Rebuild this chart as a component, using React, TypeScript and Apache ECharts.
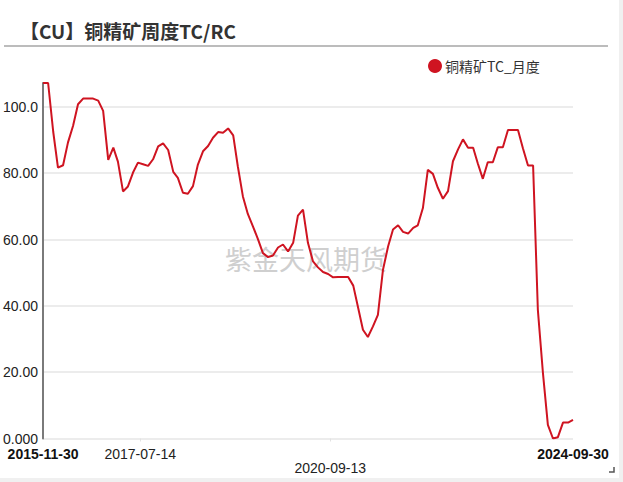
import React, { useEffect, useRef } from "react";
import * as echarts from "echarts";

const TITLE = "【CU】铜精矿周度TC/RC";
const SERIES_NAME = "铜精矿TC_月度";
const WATERMARK = "紫金天风期货";

// monthly observations, Nov 2015 .. Sep 2024 (month-end dates)
const START_YEAR = 2015;
const START_MONTH = 10; // November (0-based)
const tcValues = [
  107.2, 107.2, 92.5, 81.7, 82.4, 89.3, 94.3, 100.8, 102.5, 102.5,
  102.5, 101.9, 98.8, 84.0, 87.7, 83.5, 74.5, 76.0, 80.2, 83.2,
  82.7, 82.2, 84.2, 88.1, 89.0, 87.0, 80.4, 78.6, 74.1, 73.8,
  76.1, 82.6, 86.6, 88.2, 90.7, 92.4, 92.2, 93.5, 91.4, 82.1,
  73.0, 67.7, 64.0, 60.2, 55.9, 54.7, 55.2, 57.6, 58.5, 56.4,
  59.0, 67.2, 69.0, 59.0, 53.4, 51.6, 50.2, 49.6, 48.6, 48.7,
  48.7, 48.7, 46.1, 39.8, 32.8, 30.6, 33.8, 37.3, 50.9, 57.9,
  63.0, 64.3, 62.3, 61.8, 63.5, 64.3, 69.5, 81.0, 79.8, 75.6,
  72.3, 74.6, 83.6, 87.2, 90.2, 87.7, 87.7, 83.0, 78.3, 83.3,
  83.3, 87.8, 87.8, 93.0, 93.0, 93.0, 87.5, 82.3, 82.3, 38.8,
  19.7, 4.1, 0.0, 0.4, 4.8, 4.8, 5.6,
];

const xTickDates = ["2017-07-14", "2020-09-13"];
const xEdgeDates = ["2015-11-30", "2024-09-30"];
const xLowerLabel = "2020-09-13";

function monthEnd(i: number): number {
  const total = START_MONTH + i;
  const y = START_YEAR + Math.floor(total / 12);
  const m = total % 12;
  return Date.UTC(y, m + 1, 0);
}

function parseDate(s: string): number {
  const [y, m, d] = s.split("-").map(Number);
  return Date.UTC(y, m - 1, d);
}

function fmtDate(t: number): string {
  const d = new Date(t);
  const p = (n: number) => (n < 10 ? "0" + n : "" + n);
  return d.getUTCFullYear() + "-" + p(d.getUTCMonth() + 1) + "-" + p(d.getUTCDate());
}

const RED = "#cf1421";
const FONT = "'Liberation Sans', Arial, sans-serif";
const CJK = "'Noto Sans CJK SC', 'Noto Sans', sans-serif";

export default function App() {
  const ref = useRef<HTMLDivElement>(null);
  useEffect(() => {
    document.body.style.margin = "0";
    if (!ref.current) return;
    const chart = echarts.init(ref.current, null, { renderer: "svg" });
    const seriesData = tcValues.map((v, i) => [monthEnd(i), v]);
    const tickVals = xTickDates.map(parseDate);
    const edgeVals = xEdgeDates.map(parseDate);
    const labelVals = [edgeVals[0], ...tickVals, edgeVals[1]];
    const lowerVal = parseDate(xLowerLabel);

    chart.setOption({
      animation: false,
      backgroundColor: "#ffffff",
      title: {
        text: TITLE,
        left: 15,
        top: 16,
        textStyle: { fontSize: 19, fontWeight: "bold", color: "#333333", fontFamily: CJK },
      },
      legend: {
        data: [SERIES_NAME],
        icon: "circle",
        left: 428,
        top: 59,
        itemWidth: 14,
        itemHeight: 14,
        padding: 0,
        textStyle: { fontSize: 14, color: "#333333", fontFamily: CJK, padding: [0, 0, 0, -2] },
      },
      grid: { left: 39, right: 50, top: 83, bottom: 43.5, containLabel: false },
      xAxis: {
        type: "value",
        min: edgeVals[0],
        max: edgeVals[1],
        axisLine: { show: false },
        axisTick: {
          show: true,
          customValues: tickVals,
          length: 3,
          lineStyle: { color: "#e2e2e2", width: 1 },
        },
        splitLine: {
          show: true,
          showMinLine: false,
          showMaxLine: false,
          lineStyle: { color: "#e2e2e2", width: 1 },
        },
        axisLabel: {
          customValues: labelVals,
          margin: 8,
          fontSize: 14,
          lineHeight: 14,
          color: "#222222",
          fontFamily: FONT,
          showMinLabel: true,
          showMaxLabel: true,
          formatter: (value: number) => {
            const s = fmtDate(value);
            if (value === edgeVals[0] || value === edgeVals[1]) return "{b|" + s + "}";
            if (value === lowerVal) return "\n{n|" + s + "}";
            return "{n|" + s + "}";
          },
          rich: {
            b: { fontSize: 14, fontWeight: "bold", color: "#111111", fontFamily: FONT, lineHeight: 14 },
            n: { fontSize: 14, color: "#222222", fontFamily: FONT, lineHeight: 14 },
          },
        },
      },
      yAxis: {
        type: "value",
        min: 0,
        max: "dataMax",
        interval: 20,
        axisLine: { show: true, lineStyle: { color: "#7a7a7a", width: 2 } },
        axisTick: { show: false },
        splitLine: {
          show: true,
          showMaxLine: false,
          lineStyle: { color: "#e6e6e6", width: 1.5 },
        },
        axisLabel: {
          showMaxLabel: false,
          margin: 5,
          fontSize: 14,
          color: "#222222",
          fontFamily: FONT,
          formatter: (v: number) => v.toPrecision(4),
        },
      },
      graphic: [
        {
          type: "line",
          shape: { x1: 4, y1: 46, x2: 608, y2: 46 },
          style: { stroke: "#a6a6a6", lineWidth: 1.5 },
          silent: true,
        },
        {
          type: "text",
          x: 306,
          y: 258,
          z: 1,
          style: {
            text: WATERMARK,
            fontSize: 27,
            fontFamily: CJK,
            fill: "#cfcfcf",
            textAlign: "center",
            textVerticalAlign: "middle",
          },
          silent: true,
        },
        {
          type: "rect",
          shape: { x: 619, y: 0, width: 4, height: 482 },
          style: { fill: "#f0f0f0" },
          silent: true,
        },
        {
          type: "rect",
          shape: { x: 0, y: 478, width: 623, height: 4 },
          style: { fill: "#f0f0f0" },
          silent: true,
        },
        {
          type: "polyline",
          shape: { points: [[609, 472], [614, 472], [614, 467]] },
          style: { stroke: "#555555", lineWidth: 1.5, fill: "none" },
          silent: true,
        },
      ],
      series: [
        {
          name: SERIES_NAME,
          type: "line",
          data: seriesData,
          showSymbol: false,
          symbol: "circle",
          z: 5,
          itemStyle: { color: RED },
          lineStyle: { color: RED, width: 2 },
        },
      ],
    });
    return () => chart.dispose();
  }, []);
  return <div ref={ref} style={{ width: 623, height: 482 }} />;
}
